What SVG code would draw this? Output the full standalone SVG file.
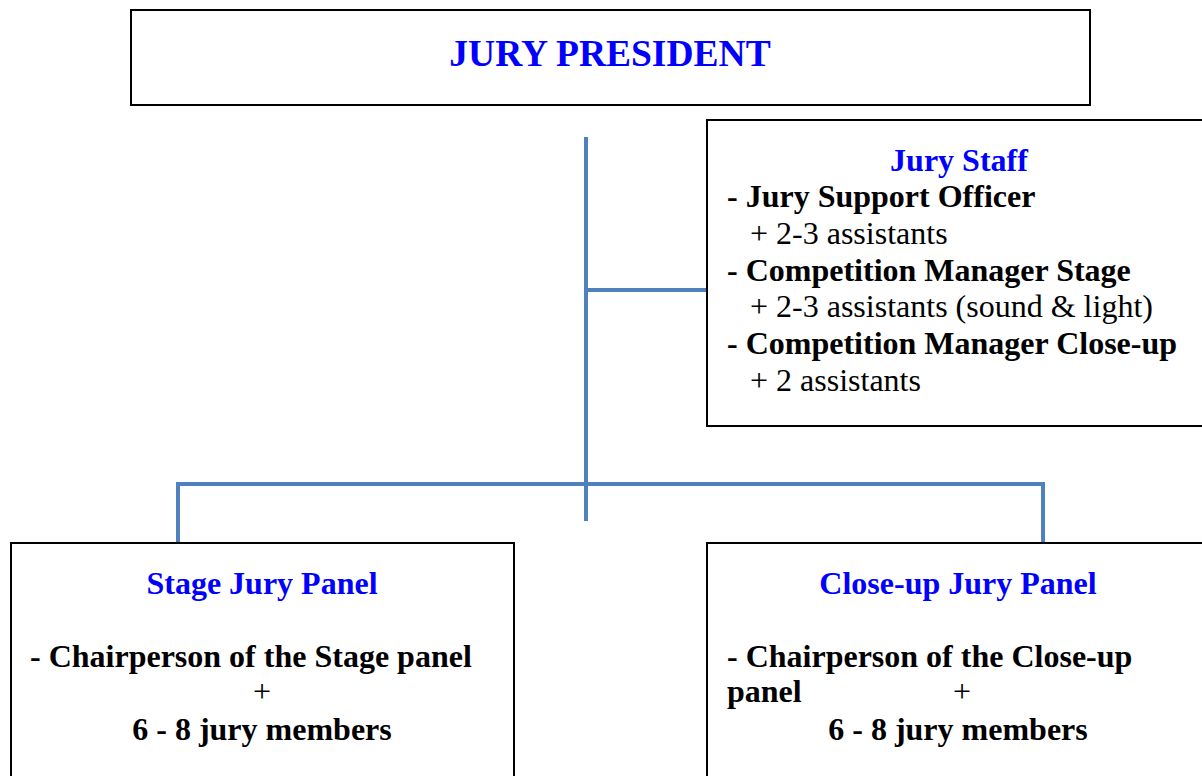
<svg xmlns="http://www.w3.org/2000/svg" width="1202" height="776" viewBox="0 0 1202 776">
<style>
.box{fill:#fff;stroke:#000;stroke-width:2}
.title{font-family:"Liberation Serif","Times New Roman",serif;font-weight:bold;fill:#0000ff}
.b{font-family:"Liberation Serif","Times New Roman",serif;font-weight:bold;font-size:32px;fill:#000}
.r{font-family:"Liberation Serif","Times New Roman",serif;font-size:32px;fill:#000}
.conn{fill:none;stroke:#4f81bd;stroke-width:4}
</style>
<rect width="1202" height="776" fill="#fff"/>
<g id="connectors">
<path class="conn" d="M586 137V521"/>
<path class="conn" d="M586 290H707"/>
<path class="conn" d="M178 553V484H1043V553"/>
</g>
<g id="jury-president">
<rect class="box" x="131" y="10" width="959" height="95"/>
<text class="title" x="610" y="66" font-size="37.5" text-anchor="middle">JURY PRESIDENT</text>
</g>
<g id="jury-staff">
<rect class="box" x="707" y="120" width="500" height="306"/>
<text class="title" x="959" y="171" font-size="32" text-anchor="middle">Jury Staff</text>
<text class="b" x="727" y="207">- Jury Support Officer</text>
<text class="r" x="750" y="244">+ 2-3 assistants</text>
<text class="b" x="727" y="281">- Competition Manager Stage</text>
<text class="r" x="750" y="317">+ 2-3 assistants (sound &amp; light)</text>
<text class="b" x="727" y="354">- Competition Manager Close-up</text>
<text class="r" x="750" y="391">+ 2 assistants</text>
</g>
<g id="stage-jury-panel">
<rect class="box" x="11" y="543" width="503" height="240"/>
<text class="title" x="262" y="594" font-size="32" text-anchor="middle">Stage Jury Panel</text>
<text class="b" x="30" y="667">- Chairperson of the Stage panel</text>
<text class="r" x="262" y="702" text-anchor="middle">+</text>
<text class="b" x="262" y="740" text-anchor="middle">6 - 8 jury members</text>
</g>
<g id="close-up-jury-panel">
<rect class="box" x="707" y="543" width="500" height="240"/>
<text class="title" x="958" y="594" font-size="32" text-anchor="middle">Close-up Jury Panel</text>
<text class="b" x="727" y="667">- Chairperson of the Close-up</text>
<text class="b" x="727" y="702">panel</text>
<text class="r" x="962" y="702" text-anchor="middle">+</text>
<text class="b" x="958" y="740" text-anchor="middle">6 - 8 jury members</text>
</g>
</svg>
